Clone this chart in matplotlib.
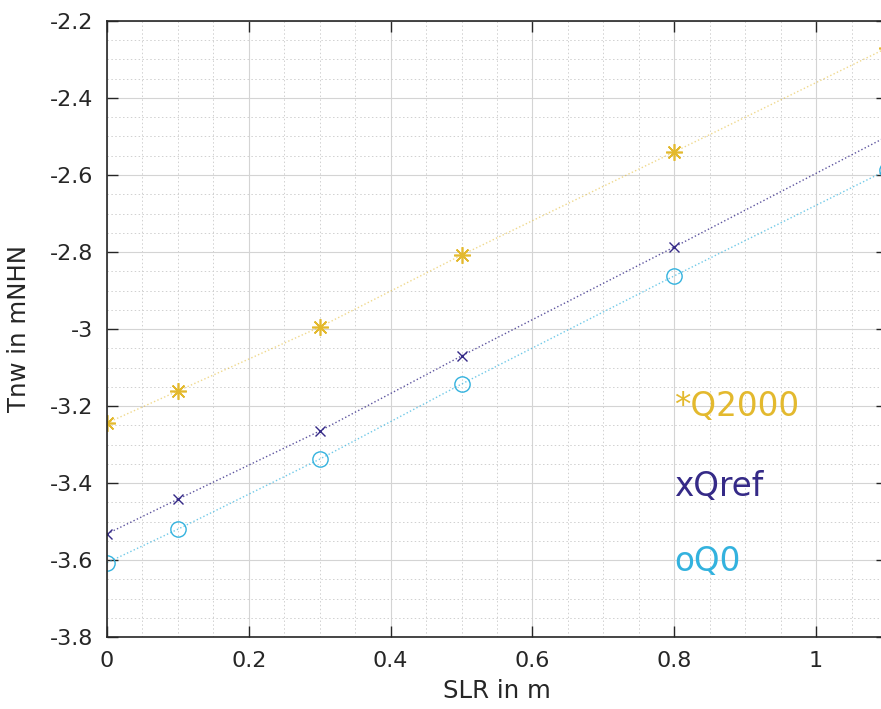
import numpy as np
import matplotlib
matplotlib.use("Agg")
import matplotlib.pyplot as plt
from matplotlib.ticker import MultipleLocator, FormatStrFormatter

# data
slr = [0.0, 0.1, 0.3, 0.5, 0.8, 1.1]
q2000 = [-3.244, -3.161, -2.995, -2.808, -2.540, -2.270]
qref = [-3.532, -3.442, -3.265, -3.070, -2.787, -2.500]
q0 = [-3.607, -3.520, -3.338, -3.143, -2.862, -2.587]

c_q2000 = "#E3B92E"
c_qref = "#352A87"
c_q0 = "#33B2DE"

fig = plt.figure(figsize=(8.81, 7.09), dpi=100)
ax = fig.add_axes([107/881, 72/709, 780/881, 616/709])

ax.plot(slr, q2000, ls=":", lw=1.0, color=c_q2000, alpha=0.55)
ax.plot(slr, qref, ls=":", lw=1.0, color=c_qref, alpha=0.8)
ax.plot(slr, q0, ls=":", lw=1.0, color=c_q0, alpha=0.7)
ax.plot(slr, q2000, ls="none", marker=(8, 2, 0), ms=12, mew=1.2, color=c_q2000)
ax.plot(slr, qref, ls="none", marker="x", ms=7, mew=1.0, color=c_qref)
ax.plot(slr, q0, ls="none", marker="o", ms=11, mew=1.0, mfc="none", mec=c_q0)

ax.text(0.8, -3.2, "*Q2000", color=c_q2000, fontsize=23.5, ha="left", va="center")
ax.text(0.8, -3.41, "xQref", color=c_qref, fontsize=23.5, ha="left", va="center")
ax.text(0.8, -3.605, "oQ0", color=c_q0, fontsize=23.5, ha="left", va="center")

ax.set_xlim(0, 1.1)
ax.set_ylim(-3.8, -2.2)
ax.xaxis.set_major_locator(MultipleLocator(0.2))
ax.xaxis.set_minor_locator(MultipleLocator(0.05))
ax.yaxis.set_major_locator(MultipleLocator(0.2))
ax.yaxis.set_minor_locator(MultipleLocator(0.05))
ax.xaxis.set_major_formatter(FormatStrFormatter("%g"))
ax.yaxis.set_major_formatter(FormatStrFormatter("%g"))

ax.grid(True, which="major", color="#d4d4d4", lw=0.8, ls="-")
ax.grid(True, which="minor", color="#d0d0d0", lw=0.7, ls=(0, (1.5, 2.5)))
ax.set_axisbelow(True)

ax.tick_params(which="major", direction="in", length=8, width=1, color="#262626",
               labelsize=16, labelcolor="#262626", top=True, right=True, pad=10)
ax.tick_params(which="minor", length=0)
for s in ax.spines.values():
    s.set_color("#262626")
    s.set_linewidth(1.2)

ax.set_xlabel("SLR in m", fontsize=17.6, color="#262626")
ax.set_ylabel("Tnw in mNHN", fontsize=17.6, color="#262626")
ax.xaxis.set_label_coords(0.5, -0.068)
ax.yaxis.set_label_coords(-0.098, 0.5)

fig.savefig("out.png", dpi=100)
